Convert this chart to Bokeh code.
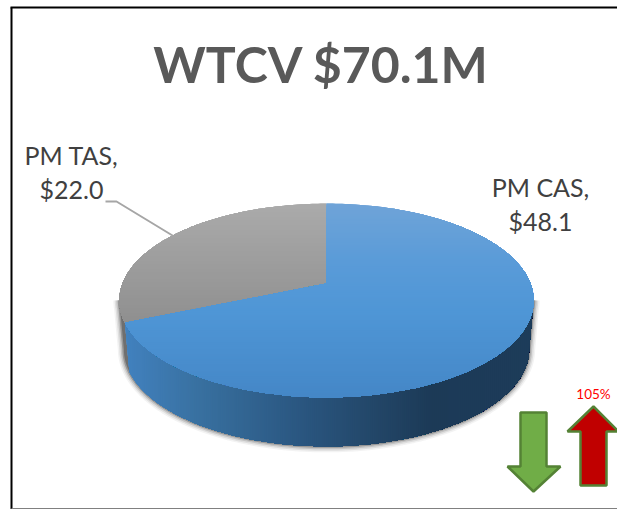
import math
from bokeh.plotting import figure
from bokeh.models import Range1d
from bokeh.core.properties import value
from bokeh.embed import file_html
from bokeh.resources import INLINE

# data
title = "WTCV $70.1M"
labels = ["PM CAS", "PM TAS"]
values = [48.1, 22.0]
change_label = "105%"
value_text = [f"${v:.1f}" for v in values]

W, H = 617, 509
p = figure(width=W, height=H, x_range=Range1d(0, W), y_range=Range1d(H, 0),
           x_axis_type=None, y_axis_type=None, toolbar_location=None,
           output_backend="svg", min_border=0, outline_line_color=None,
           background_fill_color="white", margin=(0, 0, 0, 0))
p.grid.visible = False

FONT = value("Lato")
CX, AY, AX, BY, PC, DEPTH, TAPER = 326.0, 283.0, 204.0, 44.4, -0.175, 49.0, 0.978


def disc(deg):
    t = math.radians(deg)
    u, v = math.sin(t), -math.cos(t)
    d = 1 + PC * v
    return CX + AX * u / d, (BY * v + AY) / d


def arc(a, b, n=120):
    return [disc(a + (b - a) * i / n) for i in range(n + 1)]


def lower(points):
    return [(CX + (x - CX) * TAPER, y + DEPTH) for x, y in reversed(points)]


def clip(poly, axis, limit):
    out = []
    for i, cur in enumerate(poly):
        prev = poly[i - 1]
        pin, cin = prev[axis] >= limit, cur[axis] >= limit
        if pin != cin:
            s = (limit - prev[axis]) / (cur[axis] - prev[axis])
            out.append((prev[0] + s * (cur[0] - prev[0]), prev[1] + s * (cur[1] - prev[1])))
        if cin:
            out.append(cur)
    return out


def mix(stops, pos):
    for (p0, c0), (p1, c1) in zip(stops, stops[1:]):
        if pos <= p1:
            s = max(0, (pos - p0) / (p1 - p0))
            rgb = [round(int(c0[i:i + 2], 16) + s * (int(c1[i:i + 2], 16) - int(c0[i:i + 2], 16))) for i in (1, 3, 5)]
            return "#%02x%02x%02x" % tuple(rgb)
    return stops[-1][1]


def gradient(poly, axis, start, stop, stops, step=2):
    xs, ys, cs = [], [], []
    at = start
    while at < stop:
        part = clip(poly, axis, at)
        if len(part) > 2:
            xs.append([q[0] for q in part])
            ys.append([q[1] for q in part])
            cs.append(mix(stops, at))
        at += step
    p.patches(xs, ys, fill_color=cs, line_color=None)


# sweep angles from the values
total = sum(values)
blue_end = 360 * values[0] / total
LEFT_EXT, RIGHT_EXT = 260.0, 100.0

# soft shadow round the wall
front = arc(RIGHT_EXT, LEFT_EXT)
wall = front + lower(front)
for lw, alpha in ((12, 0.06), (9, 0.1), (6, 0.16), (3, 0.3)):
    p.line([q[0] for q in wall] + [wall[0][0]], [q[1] for q in wall] + [wall[0][1]],
           line_color="#303030", line_width=lw, line_alpha=alpha)

grey_front = arc(blue_end, LEFT_EXT, 30)
grey_wall = grey_front + lower(grey_front)
p.patch([q[0] for q in grey_wall], [q[1] for q in grey_wall], fill_color="#6f6f6f", line_color=None)

blue_front = arc(RIGHT_EXT, blue_end)
blue_wall = blue_front + lower(blue_front)
gradient(blue_wall, 0, 120, 536,
         [(120, "#4282c0"), (200, "#38709f"), (300, "#2a5680"), (380, "#224566"), (430, "#1c3a57"), (536, "#1d3c5a")])

# top faces
apex = (CX, AY)
gradient([apex] + arc(blue_end, 360), 1, 200, 326,
         [(200, "#ababab"), (326, "#8e8e8e")])
gradient([apex] + arc(0, blue_end, 240), 1, 200, 400,
         [(200, "#70a4d8"), (260, "#5a9bd8"), (310, "#4f96d6"), (400, "#4486c6")])

# leader
p.line([105, 116, 172], [201, 201, 235], line_color="#a6a6a6", line_width=2)

# frame
p.line([11, 11], [7, 509], line_color="black", line_width=2)
p.line([10, 617], [7, 7], line_color="black", line_width=2)
p.line([11, 617], [508, 508], line_color="#808080", line_width=1)

# texts
p.text([321], [63], text=[title], text_font=FONT, text_font_style="bold", text_font_size="50px",
       text_color="#595959", text_align="center", text_baseline="alphabetic")
LABEL_X = [540, 71]
LABEL_Y = [186, 154]
for i in range(2):
    p.text([LABEL_X[i]], [LABEL_Y[i]], text=[labels[i] + ","], text_font=FONT, text_font_size="25px",
           text_color="#404040", text_align="center", text_baseline="alphabetic")
    p.text([LABEL_X[i]], [LABEL_Y[i] + 34], text=[value_text[i]], text_font=FONT, text_font_size="25px",
           text_color="#404040", text_align="center", text_baseline="alphabetic")
p.text([593], [393], text=[change_label], text_font=FONT, text_font_size="13.5px",
       text_color="#ff0000", text_align="center", text_baseline="alphabetic")

# arrows
p.patch([520, 546, 546, 560, 533, 507, 520], [412, 412, 466, 466, 491, 466, 466],
        fill_color="#70ad47", line_color="#548235", line_width=2.5)
p.patch([593, 618, 606, 606, 580, 580, 567], [406, 431, 431, 485, 485, 431, 431],
        fill_color="#c00000", line_color="#548235", line_width=2.5)

open("out.html", "w").write(file_html(p, INLINE))
